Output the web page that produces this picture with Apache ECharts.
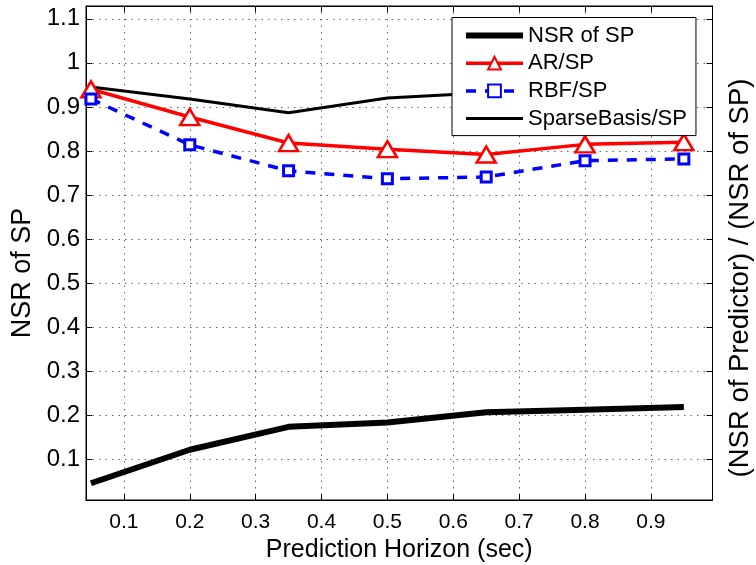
<!DOCTYPE html>
<html>
<head>
<meta charset="utf-8">
<script src="https://cdn.jsdelivr.net/npm/echarts@6/dist/echarts.min.js"></script>
<style>html,body{margin:0;padding:0;background:#fff;}#c{width:756px;height:565px;}</style>
</head>
<body>
<div id="c"></div>
<script>
var horizon = [0.05, 0.2, 0.35, 0.5, 0.65, 0.8, 0.95];
var nsrSP = [0.046, 0.122, 0.174, 0.184, 0.207, 0.213, 0.219];
var arSP = [0.940, 0.877, 0.818, 0.804, 0.792, 0.815, 0.820];
var rbfSP = [0.918, 0.814, 0.755, 0.737, 0.741, 0.778, 0.782];
var sparseSP = [0.945, 0.918, 0.887, 0.920, 0.932, 0.938, 0.942];
var xTicks = [0.1, 0.2, 0.3, 0.4, 0.5, 0.6, 0.7, 0.8, 0.9];
var yTicks = [0.1, 0.2, 0.3, 0.4, 0.5, 0.6, 0.7, 0.8, 0.9, 1, 1.1];
var seriesNames = ['NSR of SP', 'AR/SP', 'RBF/SP', 'SparseBasis/SP'];

function pairs(ys) { return horizon.map(function (x, i) { return [x, ys[i]]; }); }

var FONT = '"Liberation Sans", Arial, Helvetica, sans-serif';
var X_MIN = 0.0425, X_MAX = 0.9935, Y_MIN = 0.008, Y_MAX = 1.129;
var grid = { left: 86, right: 43.5, top: 6, bottom: 65, outerBoundsMode: 'none', containLabel: false,
  show: true, borderColor: '#000', borderWidth: 1, backgroundColor: '#fff' };

function xAx(pos, labels) {
  return {
    type: 'value', position: pos, min: X_MIN, max: X_MAX,
    name: labels ? 'Prediction Horizon (sec)' : '', nameLocation: 'middle', nameGap: 38,
    nameTextStyle: { fontFamily: FONT, fontSize: 25, color: '#000' },
    axisLine: { show: true, onZero: false, lineStyle: { color: '#000', width: 1 } },
    axisTick: { show: true, inside: true, length: 6, customValues: xTicks, lineStyle: { color: '#000' } },
    axisLabel: { show: labels, customValues: xTicks, fontFamily: FONT, fontSize: 21, color: '#000', margin: 12 },
    splitLine: { show: labels, lineStyle: { color: '#666', width: 1, type: [1.5, 5] } }
  };
}
function yAx(pos, labels, name, shift) {
  return {
    type: 'value', position: pos, min: Y_MIN, max: Y_MAX,
    name: name, nameLocation: 'middle', nameRotate: 90, nameGap: labels ? 43 : 14,
    nameTextStyle: { fontFamily: FONT, fontSize: labels ? 27 : 27.5, color: '#000', padding: [0, shift, 0, 0],
      verticalAlign: labels ? 'bottom' : 'top' },
    axisLine: { show: true, onZero: false, lineStyle: { color: '#000', width: 1 } },
    axisTick: { show: true, inside: true, length: 6, customValues: yTicks, lineStyle: { color: '#000' } },
    axisLabel: { show: labels, customValues: yTicks, fontFamily: FONT, fontSize: 24, color: '#000', margin: 6 },
    splitLine: { show: labels, lineStyle: { color: '#666', width: 1, type: [1.5, 5] } }
  };
}

var hidden = { color: 'rgba(0,0,0,0)', borderWidth: 0, opacity: 0 };
var option = {
  animation: false,
  backgroundColor: '#fff',
  grid: grid,
  xAxis: [xAx('bottom', true), xAx('top', false)],
  yAxis: [yAx('left', true, 'NSR of SP', 40), yAx('right', false, '(NSR of Predictor) / (NSR of SP)', 50)],
  legend: {
    orient: 'vertical', left: 452, top: 17.5,
    padding: [7, 9, 6, 11], itemGap: 5.7, itemWidth: 57, itemHeight: 16,
    backgroundColor: '#fff', borderColor: '#000', borderWidth: 1,
    textStyle: { fontFamily: FONT, fontSize: 22, color: '#000', lineHeight: 22 },
    data: [
      { name: seriesNames[0], lineStyle: { width: 6, color: '#000' }, itemStyle: hidden },
      { name: seriesNames[1], lineStyle: { width: 3.5, color: '#f00' } },
      { name: seriesNames[2], lineStyle: { width: 3.5, color: '#00f', type: [10, 9] } },
      { name: seriesNames[3], lineStyle: { width: 3, color: '#000' }, itemStyle: hidden }
    ]
  },
  series: [
    { name: seriesNames[0], type: 'line', data: pairs(nsrSP), symbol: 'none',
      lineStyle: { color: '#000', width: 6 }, itemStyle: { color: '#000' }, z: 2 },
    { name: seriesNames[1], type: 'line', data: pairs(arSP), symbol: 'triangle', symbolSize: [19, 16],
      lineStyle: { color: '#f00', width: 3.5 }, itemStyle: { color: '#fff', borderColor: '#f00', borderWidth: 2.5 }, z: 3 },
    { name: seriesNames[2], type: 'line', data: pairs(rbfSP), symbol: 'rect', symbolSize: 10,
      lineStyle: { color: '#00f', width: 3.5, type: [10, 9] }, itemStyle: { color: '#fff', borderColor: '#00f', borderWidth: 3 }, z: 3 },
    { name: seriesNames[3], type: 'line', data: pairs(sparseSP), symbol: 'none',
      lineStyle: { color: '#000', width: 3 }, itemStyle: { color: '#000' }, z: 3 }
  ]
};
var chart = echarts.init(document.getElementById('c'), null, { renderer: 'canvas' });
chart.setOption(option);
</script>
</body>
</html>
